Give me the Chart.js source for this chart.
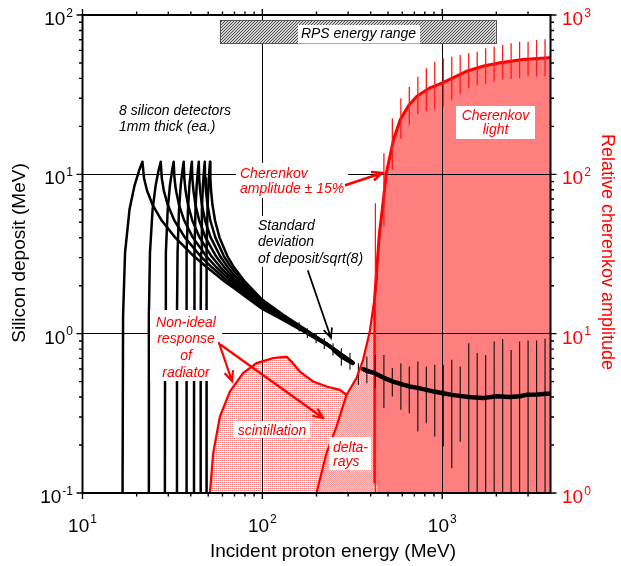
<!DOCTYPE html>
<html lang="en">
  <head>
    <meta charset="UTF-8" />
    <title>Silicon deposit and Cherenkov amplitude</title>
    <script src="https://cdn.jsdelivr.net/npm/chart.js@4.4.0/dist/chart.umd.min.js"></script>
    <style>
      html, body { margin: 0; padding: 0; background: #fff; }
      canvas { display: block; }
    </style>
  </head>
  <body>
    <canvas id="chart" width="621" height="566"></canvas>

    <script>
      const FONT = "'Liberation Sans', Arial, Helvetica, sans-serif";

      //axis ticks (decades get a label)
      const xDecades = [10, 100, 1000];
      const yDecades = [0.1, 1, 10, 100];
      const y2Decades = [1, 10, 100, 1000];

      //silicon detectors: incident energy (MeV) / deposit (MeV)
      const det1E = [16.70, 16.81, 17.24, 18.26, 19.48, 20.64, 21.54, 21.98, 22.84, 24.49, 27.56, 32.71, 41.53, 49.13, 55, 62, 70, 80, 100, 130, 170, 230, 318];
      const det1D = [0.1, 1.28, 3.22, 6.03, 8.53, 10.56, 12.0, 9.45, 7.91, 6.46, 5.13, 4.02, 3.07, 2.61, 2.36, 2.12, 1.92, 1.72, 1.43, 1.22, 1.03, 0.84, 0.655];
      const det2E = [23.30, 23.39, 23.72, 24.53, 25.52, 26.48, 27.23, 27.60, 28.32, 29.74, 32.42, 37.06, 45.23, 52.40, 55, 62, 70, 80, 100, 130, 170, 230, 318];
      const det2D = [0.1, 1.28, 3.22, 6.03, 8.53, 10.56, 12.0, 9.45, 7.91, 6.46, 5.13, 4.02, 3.07, 2.61, 2.49, 2.21, 1.98, 1.76, 1.46, 1.24, 1.04, 0.85, 0.656];
      const det3E = [28.72, 28.79, 29.07, 29.77, 30.63, 31.47, 32.14, 32.46, 33.10, 34.37, 36.79, 41.05, 48.70, 55.53, 62, 70, 80, 100, 130, 170, 230, 318];
      const det3D = [0.1, 1.28, 3.22, 6.03, 8.53, 10.56, 12.0, 9.45, 7.91, 6.46, 5.13, 4.02, 3.07, 2.61, 2.32, 2.05, 1.80, 1.48, 1.25, 1.05, 0.85, 0.657];
      const det4E = [33.46, 33.52, 33.77, 34.40, 35.17, 35.93, 36.53, 36.82, 37.41, 38.57, 40.80, 44.77, 52.00, 58.54, 62, 70, 80, 100, 130, 170, 230, 318];
      const det4D = [0.1, 1.28, 3.22, 6.03, 8.53, 10.56, 12.0, 9.45, 7.91, 6.46, 5.13, 4.02, 3.07, 2.61, 2.44, 2.13, 1.85, 1.51, 1.26, 1.05, 0.85, 0.658];
      const det5E = [37.73, 37.79, 38.02, 38.60, 39.30, 40.01, 40.56, 40.83, 41.38, 42.45, 44.54, 48.27, 55.15, 61.43, 70, 80, 100, 130, 170, 230, 318];
      const det5D = [0.1, 1.28, 3.22, 6.03, 8.53, 10.56, 12.0, 9.45, 7.91, 6.46, 5.13, 4.02, 3.07, 2.61, 2.21, 1.91, 1.53, 1.28, 1.06, 0.86, 0.66];
      const det6E = [41.68, 41.73, 41.94, 42.48, 43.14, 43.79, 44.32, 44.56, 45.08, 46.08, 48.05, 51.58, 58.16, 64.23, 70, 80, 100, 130, 170, 230, 318];
      const det6D = [0.1, 1.28, 3.22, 6.03, 8.53, 10.56, 12.0, 9.45, 7.91, 6.46, 5.13, 4.02, 3.07, 2.61, 2.32, 1.97, 1.56, 1.29, 1.07, 0.86, 0.66];
      const det7E = [45.35, 45.41, 45.61, 46.11, 46.73, 47.34, 47.83, 48.07, 48.56, 49.51, 51.38, 54.75, 61.07, 66.93, 80, 100, 130, 170, 230, 318];
      const det7D = [0.1, 1.28, 3.22, 6.03, 8.53, 10.56, 12.0, 9.45, 7.91, 6.46, 5.13, 4.02, 3.07, 2.61, 2.04, 1.59, 1.30, 1.07, 0.86, 0.662];
      const det8E = [48.82, 48.87, 49.06, 49.54, 50.13, 50.71, 51.17, 51.40, 51.86, 52.77, 54.56, 57.78, 63.87, 69.55, 80, 100, 130, 170, 230, 318];
      const det8D = [0.1, 1.28, 3.22, 6.03, 8.53, 10.56, 12.0, 9.45, 7.91, 6.46, 5.13, 4.02, 3.07, 2.61, 2.12, 1.63, 1.32, 1.08, 0.86, 0.665];

      //mean deposit (thick line), null = gap
      const meanE = [250, 275, 300, 318, 340, 363, 380, 422, 470, 533, 600, 660, 740, 817, 900, 1010, 1130, 1251, 1400, 1685, 2001, 2371, 2700, 2937, 3400, 3793, 4000];
      const meanD = [0.79, 0.72, 0.68, 0.655, null, 0.60, 0.585, 0.565, 0.53, 0.50, 0.48, 0.466, 0.455, 0.444, 0.433, 0.423, 0.413, 0.407, 0.40, 0.394, 0.405, 0.40, 0.405, 0.413, 0.415, 0.419, 0.42];

      //standard deviation of deposit/sqrt(8)
      const sdE = [160, 178, 199, 221, 247, 275, 307, 342, 381, 425, 474, 528, 589, 656, 732, 816, 909, 1014, 1130, 1259, 1404, 1565, 1744, 1945, 2168, 2416, 2693, 3002, 3347, 3730];
      const sdLo = [1.03, 0.94, 0.87, 0.80, 0.73, 0.63, 0.593, 0.477, 0.489, 0.455, 0.341, 0.403, 0.333, 0.317, 0.243, 0.274, 0.226, 0.196, 0.143, 0.210, 0.1, 0.1, 0.1, 0.1, 0.1, 0.1, 0.1, 0.1, 0.1, 0.1];
      const sdHi = [1.18, 1.08, 1.01, 0.94, 0.87, 0.81, 0.755, 0.653, 0.718, 0.736, 0.736, 0.608, 0.653, 0.622, 0.668, 0.622, 0.637, 0.637, 0.685, 0.622, 0.872, 0.755, 0.736, 0.892, 0.925, 0.791, 0.892, 0.905, 0.905, 0.928];

      //radiator response (relative cherenkov amplitude)
      const scintE = [51.1, 53.3, 58.1, 66.0, 78.2, 92.9, 114.8, 136.3, 145.3, 161.6, 191.5, 227.4, 269.5, 293.7];
      const scintA = [1, 1.78, 3.02, 4.33, 5.65, 6.53, 7.02, 7.18, 6.68, 5.78, 5.01, 4.66, 4.44, 4.13];
      const deltaE = [200, 227.4, 258.4, 293.7, 313.1, 333.7, 363.1, 395.5, 421.7, 434.5];
      const deltaA = [1, 1.78, 2.61, 4.13, 4.66, 5.26, 6.85, 10.3, 17.1, 23.4];
      const cherE = [421, 422, 434, 447, 462, 489, 537, 585, 650, 724, 850, 1009, 1371, 1700, 2100, 2800, 3890, 4000];
      const cherA = [1.15, 17.1, 26.6, 42, 57.5, 102, 166, 221, 270, 310, 348, 376, 444, 478, 502, 525, 540, 541];
      const cherBarE = [425, 474, 528, 589, 656, 732, 816, 909, 1014, 1130, 1259, 1404, 1565, 1744, 1945, 2168, 2416, 2693, 3002, 3347, 3730];
      const cherBarLo = [1, 47, 107, 167, 205, 239, 250, 255, 266, 292, 319, 347, 362, 370, 382, 394, 397, 401, 413, 411, 413];
      const cherBarHi = [65.9, 135.6, 224.9, 300.2, 354.9, 410.1, 463.1, 509.3, 534.6, 547.7, 561.2, 575.0, 588.8, 618.2, 633.4, 648.3, 664.5, 680, 680, 697, 704];

      //RPS energy range band
      const rpsRange = [58, 1980];
      const rpsBand = [66.4, 93];

      //helpers
      const pts = (xs, ys) => xs.map((x, i) => ({ x: x, y: ys[i] }));
      const bars = (xs, lo, hi) => xs.flatMap((x, i) => [{ x: x, y: lo[i] }, { x: x, y: hi[i] }, { x: x, y: null }]);

      const canvas = document.getElementById('chart');
      const g = canvas.getContext('2d');

      function dotPattern(bg, fg, size, dots) {
        const c = document.createElement('canvas');
        c.width = size; c.height = size;
        const p = c.getContext('2d');
        p.fillStyle = bg; p.fillRect(0, 0, size, size);
        p.fillStyle = fg;
        dots.forEach(d => p.fillRect(d[0], d[1], 1, 1));
        return g.createPattern(c, 'repeat');
      }
      const scintFill = dotPattern('#ffffff', '#ff7a7a', 2, [[0, 0]]);
      const deltaFill = dotPattern('#ffdada', '#ff9494', 2, [[0, 0], [1, 1]]);
      const hatchFill = dotPattern('#d2d2d2', '#505050', 3, [[2, 0], [1, 1], [0, 2]]);

      const detectors = [[det1E, det1D], [det2E, det2D], [det3E, det3D], [det4E, det4D],
                         [det5E, det5D], [det6E, det6D], [det7E, det7D], [det8E, det8D]];

      //data
      const datasets = [
        { label: 'scintillation', data: pts(scintE, scintA), yAxisID: 'y2', borderColor: '#ff0000', borderWidth: 2.3,
          backgroundColor: scintFill, fill: 'start', order: 20 },
        { label: 'Cherenkov light', data: pts(cherE, cherA), yAxisID: 'y2', borderColor: '#ff0000', borderWidth: 3,
          backgroundColor: 'rgba(255,0,0,0.5)', fill: 'start', order: 18 },
        { label: 'Cherenkov amplitude ± 15%', data: bars(cherBarE, cherBarLo, cherBarHi), yAxisID: 'y2',
          borderColor: '#ff1a1a', borderWidth: 1.3, fill: false, order: 17 },
        { label: 'delta-rays', data: pts(deltaE, deltaA), yAxisID: 'y2', borderColor: '#ff0000', borderWidth: 2.2,
          backgroundColor: deltaFill, fill: 'start', order: 1 }
      ];
      detectors.forEach((d, i) => {
        datasets.push({ label: 'detector ' + (i + 1), data: pts(d[0], d[1]), yAxisID: 'y', borderColor: '#000',
          borderWidth: 2.5, borderJoinStyle: 'round', fill: false, order: 10 });
      });
      datasets.push({ label: 'std deviation', data: bars(sdE, sdLo, sdHi), yAxisID: 'y', borderColor: '#1a1a1a',
        borderWidth: 1.2, fill: false, order: 9 });
      datasets.push({ label: 'mean deposit', data: pts(meanE, meanD), yAxisID: 'y', borderColor: '#000',
        borderWidth: 4.5, borderJoinStyle: 'round', borderCapStyle: 'round', fill: false, order: 8 });

      //annotations
      function drawPow(ctx, exp, x, base, align, color) {
        ctx.font = '19px ' + FONT;
        const w1 = ctx.measureText('10').width;
        ctx.font = '12px ' + FONT;
        const w2 = ctx.measureText(exp).width;
        const total = w1 + 1 + w2;
        const left = align === 'right' ? x - total : align === 'center' ? x - total / 2 : x;
        ctx.fillStyle = color;
        ctx.textAlign = 'left';
        ctx.textBaseline = 'alphabetic';
        ctx.font = '19px ' + FONT;
        ctx.fillText('10', left, base);
        ctx.font = '12px ' + FONT;
        ctx.fillText(exp, left + w1 + 1, base - 8.5);
      }

      function note(ctx, lines, x, base, lh, align, color, box, size) {
        if (box) {
          ctx.fillStyle = '#fff';
          ctx.fillRect(box[0], box[1], box[2], box[3]);
        }
        ctx.fillStyle = color;
        ctx.font = 'italic ' + (size || 14) + 'px ' + FONT;
        ctx.textAlign = align;
        ctx.textBaseline = 'alphabetic';
        lines.forEach((t, i) => ctx.fillText(t, x, base + i * lh));
      }

      function arrow(ctx, x1, y1, x2, y2, color, w) {
        const a = Math.atan2(y2 - y1, x2 - x1);
        const len = 10, spread = 0.42;
        ctx.strokeStyle = color;
        ctx.lineWidth = w;
        ctx.lineCap = 'round';
        ctx.beginPath();
        ctx.moveTo(x1, y1);
        ctx.lineTo(x2, y2);
        ctx.moveTo(x2 - len * Math.cos(a - spread), y2 - len * Math.sin(a - spread));
        ctx.lineTo(x2, y2);
        ctx.lineTo(x2 - len * Math.cos(a + spread), y2 - len * Math.sin(a + spread));
        ctx.stroke();
      }

      const minors = decades => decades.slice(0, -1).flatMap(d => [2, 3, 4, 5, 6, 7, 8, 9].map(m => m * d));

      const axesPlugin = {
        id: 'originAxes',
        beforeDatasetsDraw(chart) {
          //grid over the fills, under the curves
          const { ctx, chartArea: a, scales } = chart;
          ctx.save();
          ctx.strokeStyle = '#000';
          ctx.lineWidth = 1;
          ctx.beginPath();
          xDecades.forEach(v => {
            const px = Math.floor(scales.x.getPixelForValue(v)) + 0.5;
            if (px > a.left + 2 && px < a.right - 2) { ctx.moveTo(px, a.top); ctx.lineTo(px, a.bottom); }
          });
          yDecades.forEach(v => {
            const py = Math.floor(scales.y.getPixelForValue(v)) + 0.5;
            if (py > a.top + 2 && py < a.bottom - 2) { ctx.moveTo(a.left, py); ctx.lineTo(a.right, py); }
          });
          ctx.stroke();
          ctx.restore();
        },
        afterDatasetsDraw(chart) {
          const { ctx, chartArea: a, scales } = chart;
          const x = scales.x, y = scales.y, y2 = scales.y2;
          ctx.save();

          //RPS energy range
          const rx1 = x.getPixelForValue(rpsRange[0]), rx2 = x.getPixelForValue(rpsRange[1]);
          const ry1 = y.getPixelForValue(rpsBand[1]), ry2 = y.getPixelForValue(rpsBand[0]);
          ctx.fillStyle = hatchFill;
          ctx.fillRect(rx1, ry1, rx2 - rx1, ry2 - ry1);
          ctx.strokeStyle = '#555';
          ctx.lineWidth = 1;
          ctx.strokeRect(Math.round(rx1) + 0.5, Math.round(ry1) + 0.5, Math.round(rx2 - rx1), Math.round(ry2 - ry1));
          note(ctx, ['RPS energy range'], 358.5, 37.5, 0, 'center', '#000', [298, 25, 122, 18.5]);

          //labels
          note(ctx, ['8 silicon detectors', '1mm thick (ea.)'], 119, 114.5, 16, 'left', '#000', null);
          note(ctx, ['Cherenkov', 'amplitude \u00b1 15%'], 240, 177.5, 15.5, 'left', '#ff0000', [236, 163, 112, 35]);
          note(ctx, ['Standard', 'deviation', 'of deposit/sqrt(8)'], 258, 230, 16.3, 'left', '#000', [255, 216, 110, 51]);
          note(ctx, ['Cherenkov', 'light'], 495.5, 119.5, 14, 'center', '#ff0000', [456, 106, 79, 33]);
          note(ctx, ['Non-ideal', 'response', 'of', 'radiator'], 186, 326.5, 16.7, 'center', '#ff0000', [150, 310, 72, 71]);
          note(ctx, ['scintillation'], 272, 434.5, 0, 'center', '#ff0000', [234, 421, 76, 17]);
          note(ctx, ['delta-', 'rays'], 333, 451.5, 14, 'left', '#ff0000', [329, 437, 42, 33]);

          //arrows
          arrow(ctx, 346, 185, 382, 173, '#ff0000', 2.4);
          arrow(ctx, 308, 271, 331, 338, '#000', 1.8);
          arrow(ctx, 219, 343, 232, 381, '#ff0000', 2.2);
          arrow(ctx, 221, 345, 323, 418, '#ff0000', 2.2);

          //frame
          ctx.strokeStyle = '#000';
          ctx.lineWidth = 2;
          ctx.strokeRect(a.left, a.top, a.right - a.left, a.bottom - a.top);

          //ticks (outward)
          ctx.lineWidth = 1.4;
          ctx.lineCap = 'butt';
          ctx.beginPath();
          const xt = xDecades.map(v => [v, 6]).concat(minors(xDecades.concat([10000])).filter(v => v < 4000).map(v => [v, 3.5]));
          xt.forEach(t => {
            const px = x.getPixelForValue(t[0]);
            ctx.moveTo(px, a.bottom); ctx.lineTo(px, a.bottom + t[1]);
            ctx.moveTo(px, a.top); ctx.lineTo(px, a.top - t[1]);
          });
          const yt = yDecades.map(v => [v, 6]).concat(minors(yDecades).map(v => [v, 3.5]));
          yt.forEach(t => {
            const py = y.getPixelForValue(t[0]);
            ctx.moveTo(a.left, py); ctx.lineTo(a.left - t[1], py);
          });
          const y2t = y2Decades.map(v => [v, 6]).concat(minors(y2Decades).map(v => [v, 3.5]));
          y2t.forEach(t => {
            const py = y2.getPixelForValue(t[0]);
            ctx.moveTo(a.right, py); ctx.lineTo(a.right + t[1], py);
          });
          ctx.stroke();

          //tick labels
          xDecades.forEach(v => drawPow(ctx, String(Math.round(Math.log10(v))), x.getPixelForValue(v), 531.5, 'center', '#000'));
          yDecades.forEach(v => drawPow(ctx, String(Math.round(Math.log10(v))), 73, y.getPixelForValue(v) + 10, 'right', '#000'));
          y2Decades.forEach(v => drawPow(ctx, String(Math.round(Math.log10(v))), 562, y2.getPixelForValue(v) + 10, 'left', '#ff0000'));

          //axis titles
          ctx.fillStyle = '#000';
          ctx.font = '19px ' + FONT;
          ctx.textAlign = 'center';
          ctx.textBaseline = 'alphabetic';
          ctx.fillText('Incident proton energy (MeV)', 333, 557);

          ctx.save();
          ctx.translate(20, 253);
          ctx.rotate(-Math.PI / 2);
          ctx.textBaseline = 'middle';
          ctx.fillText('Silicon deposit (MeV)', 0, 0);
          ctx.restore();

          ctx.save();
          ctx.translate(607, 252);
          ctx.rotate(Math.PI / 2);
          ctx.fillStyle = '#ff0000';
          ctx.font = '18px ' + FONT;
          ctx.textBaseline = 'middle';
          ctx.fillText('Relative cherenkov amplitude', 0, 0);
          ctx.restore();

          ctx.restore();
        }
      };

      //config
      const config = {
        type: 'line',
        data: { datasets: datasets },
        options: {
          responsive: false,
          animation: false,
          events: [],
          layout: { padding: { left: 82.5, right: 70.5, top: 15, bottom: 73 }, autoPadding: false },
          elements: { point: { radius: 0 }, line: { tension: 0 } },
          scales: {
            x: { type: 'logarithmic', min: 10, max: 4000, display: false },
            y: { type: 'logarithmic', min: 0.1, max: 100, display: false },
            y2: { type: 'logarithmic', min: 1, max: 1000, display: false, position: 'right' }
          },
          plugins: {
            legend: { display: false },
            tooltip: { enabled: false },
            filler: { drawTime: 'beforeDatasetsDraw' }
          }
        },
        plugins: [axesPlugin]
      };

      //init
      const chart = new Chart(canvas, config);
    </script>
  </body>
</html>
